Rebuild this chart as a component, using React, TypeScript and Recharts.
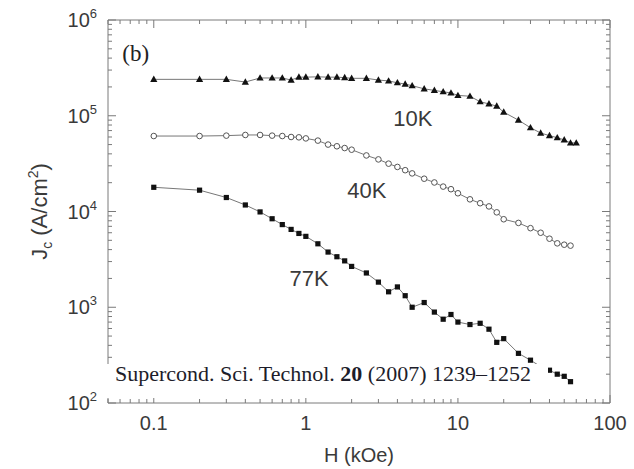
import { LineChart, Line, XAxis, YAxis, ReferenceDot } from 'recharts';

// field values (kOe)
const H_10K = [0.1, 0.2, 0.3, 0.4, 0.5, 0.6, 0.7, 0.8, 0.9, 1, 1.2, 1.4, 1.6, 1.8, 2, 2.5, 3, 3.5, 4, 4.5, 5, 6, 7, 8, 9, 10, 12, 14, 16, 18, 20, 25, 30, 35, 40, 45, 50, 55, 60];
const H_40K = [0.1, 0.2, 0.3, 0.4, 0.5, 0.6, 0.7, 0.8, 0.9, 1, 1.2, 1.4, 1.6, 1.8, 2, 2.5, 3, 3.5, 4, 4.5, 5, 6, 7, 8, 9, 10, 12, 14, 16, 18, 20, 25, 30, 35, 40, 45, 50, 55];
const H_77K = [0.1, 0.2, 0.3, 0.4, 0.5, 0.6, 0.7, 0.8, 0.9, 1, 1.2, 1.4, 1.6, 1.8, 2, 2.5, 3, 3.5, 4, 4.5, 5, 6, 7, 8, 9, 10, 12, 14, 16, 18, 20, 25, 30, 35, 40, 45, 50, 55];

// Jc (A/cm2)
const JC_10K = [2.4e5, 2.4e5, 2.4e5, 2.25e5, 2.48e5, 2.48e5, 2.48e5, 2.36e5, 2.53e5, 2.53e5, 2.55e5, 2.53e5, 2.53e5, 2.5e5, 2.46e5, 2.46e5, 2.36e5, 2.31e5, 2.21e5, 2.14e5, 2.06e5, 1.91e5, 1.84e5, 1.78e5, 1.73e5, 1.63e5, 1.6e5, 1.4e5, 1.33e5, 1.26e5, 1.09e5, 9.0e4, 7.5e4, 6.6e4, 6.2e4, 5.9e4, 5.6e4, 5.2e4, 5.2e4];
const JC_40K = [6.14e4, 6.14e4, 6.2e4, 6.3e4, 6.3e4, 6.2e4, 6.14e4, 6.0e4, 5.95e4, 5.8e4, 5.5e4, 5.0e4, 4.8e4, 4.6e4, 4.42e4, 3.85e4, 3.5e4, 3.16e4, 2.92e4, 2.7e4, 2.5e4, 2.2e4, 2.01e4, 1.82e4, 1.71e4, 1.55e4, 1.34e4, 1.22e4, 1.13e4, 9.8e3, 8.3e3, 7.6e3, 6.7e3, 6.0e3, 5.2e3, 4.65e3, 4.5e3, 4.4e3];
const JC_77K = [1.79e4, 1.67e4, 1.4e4, 1.17e4, 9.9e3, 8.4e3, 7.3e3, 6.5e3, 5.9e3, 5.5e3, 4.6e3, 3.77e3, 3.37e3, 3.05e3, 2.67e3, 2.28e3, 1.83e3, 1.45e3, 1.63e3, 1.32e3, 1.0e3, 1.12e3, 890, 750, 840, 700, 660, 680, 590, 430, 470, 330, 280, 240, 220, 200, 190, 167];

const X_TICKS = [0.05, 0.06, 0.07, 0.08, 0.09, 0.1, 0.2, 0.3, 0.4, 0.5, 0.6, 0.7, 0.8, 0.9, 1, 2, 3, 4, 5, 6, 7, 8, 9, 10, 20, 30, 40, 50, 60, 70, 80, 90, 100];
const Y_TICKS = [100, 200, 300, 400, 500, 600, 700, 800, 900, 1e3, 2e3, 3e3, 4e3, 5e3, 6e3, 7e3, 8e3, 9e3, 1e4, 2e4, 3e4, 4e4, 5e4, 6e4, 7e4, 8e4, 9e4, 1e5, 2e5, 3e5, 4e5, 5e5, 6e5, 7e5, 8e5, 9e5, 1e6];

const s10 = H_10K.map((h, i) => ({ h, jc: JC_10K[i] }));
const s40 = H_40K.map((h, i) => ({ h, jc: JC_40K[i] }));
const s77 = H_77K.map((h, i) => ({ h, jc: JC_77K[i] }));

const AXIS = '#7a7a7a';
const TXT = '#3a3a3a';

const isMajor = (v: number) => Math.abs(Math.log10(v) - Math.round(Math.log10(v))) < 1e-6;

const BottomTick = (p: any) => {
  const major = isMajor(p.payload.value);
  return (
    <g>
      <line x1={p.x} x2={p.x} y1={p.y} y2={p.y - (major ? 8 : 4)} stroke={AXIS} />
      {major && (
        <text x={p.x} y={p.y + 27} textAnchor="middle" fontSize={20} fill={TXT}>
          {String(p.payload.value)}
        </text>
      )}
    </g>
  );
};

const TopTick = (p: any) => {
  const major = isMajor(p.payload.value);
  return <line x1={p.x} x2={p.x} y1={p.y} y2={p.y + (major ? 8 : 4)} stroke={AXIS} />;
};

const LeftTick = (p: any) => {
  const v = p.payload.value;
  const major = isMajor(v);
  return (
    <g>
      <line x1={p.x} x2={p.x + (major ? 8 : 4)} y1={p.y} y2={p.y} stroke={AXIS} />
      {major && (
        <text x={p.x - 11} y={p.y} dy={7} textAnchor="end" fontSize={20} fill={TXT}>
          <tspan>10</tspan>
          <tspan dy={-9} fontSize={13}>{Math.round(Math.log10(v))}</tspan>
        </text>
      )}
    </g>
  );
};

const RightTick = (p: any) => {
  const major = isMajor(p.payload.value);
  return <line x1={p.x} x2={p.x - (major ? 8 : 4)} y1={p.y} y2={p.y} stroke={AXIS} />;
};

const Triangle = (p: any) => {
  const { cx, cy } = p;
  if (cx == null || cy == null) return null;
  return <polygon key={p.index} points={`${cx},${cy - 3.8} ${cx - 3.6},${cy + 2.6} ${cx + 3.6},${cy + 2.6}`} fill="#111" />;
};

const Circle = (p: any) => {
  const { cx, cy } = p;
  if (cx == null || cy == null) return null;
  return <circle key={p.index} cx={cx} cy={cy} r={2.8} fill="#fff" stroke="#555" strokeWidth={1} />;
};

const Square = (p: any) => {
  const { cx, cy } = p;
  if (cx == null || cy == null) return null;
  return <rect key={p.index} x={cx - 2.6} y={cy - 2.6} width={5.2} height={5.2} fill="#111" />;
};

const YTitle = (p: any) => {
  const vb = p.viewBox;
  const cy = vb.y + vb.height / 2;
  return (
    <text x={40} y={cy} transform={`rotate(-90 40 ${cy})`} textAnchor="middle" fontSize={22} fill={TXT} dy={7}>
      <tspan>J</tspan>
      <tspan fontSize={14} dy={5}>c</tspan>
      <tspan dy={-5}> (A/cm</tspan>
      <tspan fontSize={14} dy={-9}>2</tspan>
      <tspan dy={9}>)</tspan>
    </text>
  );
};

const XTitle = (p: any) => {
  const vb = p.viewBox;
  return (
    <text x={vb.x + vb.width / 2} y={462} textAnchor="middle" fontSize={20} fill={TXT}>
      H (kOe)
    </text>
  );
};

const seriesLabel = (value: string) => ({ value, position: 'center' as const, fontSize: 22, fill: TXT });

export default function App() {
  return (
    <div style={{ position: 'absolute', left: 0, top: 0, width: 634, height: 469, background: '#fff', fontFamily: '"Liberation Sans", Arial, sans-serif' }}>
      <LineChart width={634} height={469} margin={{ top: 0, right: 0, bottom: 0, left: 0 }}>
        <XAxis xAxisId="b" dataKey="h" type="number" scale="log" domain={[0.05, 100]} allowDataOverflow ticks={X_TICKS} interval={0}
          tick={<BottomTick />} tickLine={false} tickSize={0} tickMargin={0} height={66} axisLine={{ stroke: AXIS }} label={<XTitle />} />
        <XAxis xAxisId="t" orientation="top" dataKey="h" type="number" scale="log" domain={[0.05, 100]} allowDataOverflow ticks={X_TICKS} interval={0}
          tick={<TopTick />} tickLine={false} tickSize={0} tickMargin={0} height={20} axisLine={{ stroke: AXIS }} />
        <YAxis yAxisId="l" type="number" scale="log" domain={[100, 1e6]} allowDataOverflow ticks={Y_TICKS} interval={0}
          tick={<LeftTick />} tickLine={false} tickSize={0} tickMargin={0} width={108} axisLine={{ stroke: AXIS }} label={<YTitle />} />
        <YAxis yAxisId="r" orientation="right" type="number" scale="log" domain={[100, 1e6]} allowDataOverflow ticks={Y_TICKS} interval={0}
          tick={<RightTick />} tickLine={false} tickSize={0} tickMargin={0} width={24} axisLine={{ stroke: AXIS }} />

        <Line xAxisId="b" yAxisId="l" data={s10} dataKey="jc" stroke="#777" strokeWidth={1} dot={<Triangle />} isAnimationActive={false} />
        <Line xAxisId="b" yAxisId="l" data={s40} dataKey="jc" stroke="#777" strokeWidth={1} dot={<Circle />} isAnimationActive={false} />
        <Line xAxisId="b" yAxisId="l" data={s77} dataKey="jc" stroke="#777" strokeWidth={1} dot={<Square />} isAnimationActive={false} />

        <ReferenceDot xAxisId="b" yAxisId="l" x={5.06} y={9.5e4} r={0} fill="none" stroke="none" label={seriesLabel('10K')} />
        <ReferenceDot xAxisId="b" yAxisId="l" x={2.52} y={1.67e4} r={0} fill="none" stroke="none" label={seriesLabel('40K')} />
        <ReferenceDot xAxisId="b" yAxisId="l" x={1.05} y={2.0e3} r={0} fill="none" stroke="none" label={seriesLabel('77K')} />
        <ReferenceDot xAxisId="b" yAxisId="l" x={0.076} y={4.5e5} r={0} fill="none" stroke="none"
          label={{ value: '(b)', position: 'center', fontSize: 23, fill: '#222', fontFamily: '"Liberation Serif", serif' }} />
      </LineChart>
      <div style={{ position: 'absolute', left: 102, top: 364, width: 446, height: 34, background: '#fff', fontFamily: '"Liberation Serif", "Times New Roman", serif', fontSize: 22, lineHeight: '19px', paddingLeft: 13, boxSizing: 'border-box', color: '#1d1d2a', whiteSpace: 'nowrap' }}>
        Supercond. Sci. Technol. <b>20</b> (2007) 1239–1252
      </div>
    </div>
  );
}
